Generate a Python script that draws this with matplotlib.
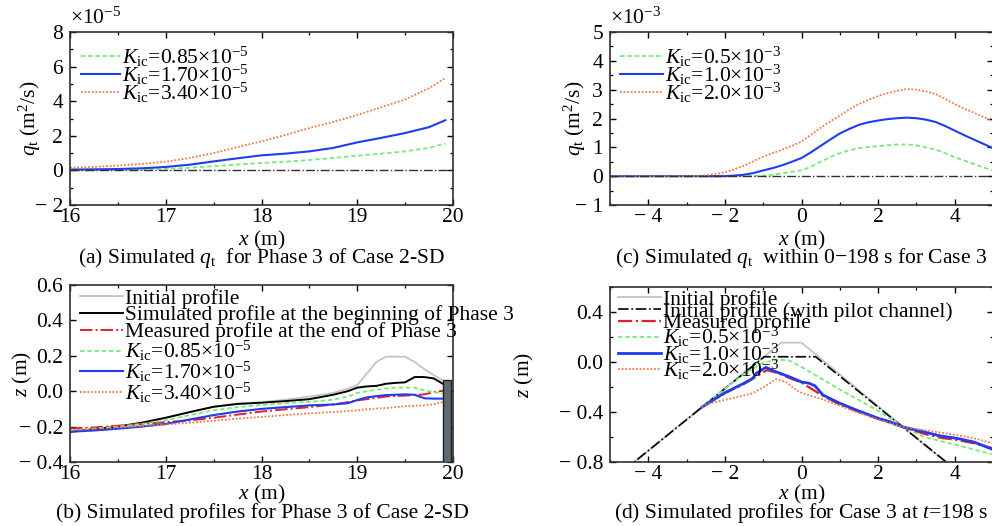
import matplotlib
matplotlib.use("Agg")
import matplotlib.pyplot as plt
from matplotlib.ticker import MultipleLocator, FuncFormatter
from matplotlib.patches import Rectangle

plt.rcParams['font.family'] = ['Liberation Serif', 'DejaVu Serif']
plt.rcParams['mathtext.fontset'] = 'custom'
plt.rcParams['mathtext.rm'] = 'Liberation Serif'
plt.rcParams['mathtext.it'] = 'Liberation Serif:italic'
FS = 15.5
plt.rcParams['font.size'] = FS

# (a) sediment transport rate, Phase 3 of Case 2-SD (units of 1e-5 m2/s)
xa = [16.0, 16.25, 16.5, 16.75, 17.0, 17.25, 17.5, 17.75, 18.0, 18.25, 18.5,
      18.75, 19.0, 19.25, 19.5, 19.75, 19.92]
qa_085 = [0.0, 0.0, 0.02, 0.04, 0.08, 0.15, 0.25, 0.34, 0.43, 0.5, 0.6,
          0.72, 0.85, 0.97, 1.1, 1.3, 1.55]
qa_170 = [0.05, 0.06, 0.08, 0.12, 0.2, 0.33, 0.52, 0.7, 0.87, 0.97, 1.1,
          1.3, 1.62, 1.88, 2.16, 2.5, 2.9]
qa_340 = [0.15, 0.2, 0.28, 0.38, 0.5, 0.72, 1.0, 1.35, 1.68, 2.05, 2.45,
          2.8, 3.2, 3.65, 4.1, 4.75, 5.35]
labels_a = [r'$K_{\rm ic}$=0.85×10$^{-5}$', r'$K_{\rm ic}$=1.70×10$^{-5}$',
            r'$K_{\rm ic}$=3.40×10$^{-5}$']

# (c) sediment transport rate, Case 3 (units of 1e-3 m2/s)
xc = [-5.0, -4.0, -3.0, -2.5, -2.0, -1.75, -1.5, -1.25, -1.0, -0.75, -0.5,
      -0.25, 0.0, 0.25, 0.5, 0.75, 1.0, 1.25, 1.5, 1.75, 2.0, 2.25, 2.5, 2.75,
      3.0, 3.25, 3.5, 3.75, 4.0, 4.25, 4.5, 4.75, 5.0]
qc_05 = [0, 0, 0, 0, 0, 0, 0, 0.01, 0.02, 0.05, 0.1, 0.15, 0.2, 0.33, 0.5,
         0.66, 0.8, 0.9, 0.97, 1.01, 1.04, 1.07, 1.1, 1.1, 1.07, 1.0, 0.92,
         0.8, 0.66, 0.54, 0.42, 0.3, 0.2]
qc_10 = [0, 0, 0, 0, 0, 0.02, 0.05, 0.11, 0.2, 0.28, 0.38, 0.5, 0.63, 0.83,
         1.05, 1.27, 1.48, 1.64, 1.78, 1.87, 1.93, 1.98, 2.01, 2.03, 2.01,
         1.96, 1.88, 1.74, 1.58, 1.42, 1.27, 1.12, 0.97]
qc_20 = [0, 0, 0, 0.02, 0.13, 0.24, 0.37, 0.52, 0.68, 0.8, 0.92, 1.05, 1.2,
         1.44, 1.68, 1.9, 2.1, 2.32, 2.5, 2.65, 2.78, 2.88, 2.96, 3.02, 3.0,
         2.94, 2.85, 2.68, 2.5, 2.34, 2.2, 2.05, 1.92]
labels_c = [r'$K_{\rm ic}$=0.5×10$^{-3}$', r'$K_{\rm ic}$=1.0×10$^{-3}$',
            r'$K_{\rm ic}$=2.0×10$^{-3}$']

# (b) bed profiles, Phase 3 of Case 2-SD
xb = [16.0, 16.25, 16.5, 16.75, 17.0, 17.25, 17.5, 17.75, 18.0, 18.25, 18.5,
      18.75, 18.9, 19.0, 19.1, 19.2, 19.3, 19.4, 19.5, 19.6, 19.7, 19.8, 19.9]
zb_init = [-0.229, -0.215, -0.2, -0.178, -0.15, -0.118, -0.088, -0.07, -0.062,
           -0.048, -0.03, -0.01, 0.015, 0.035, 0.1, 0.165, 0.195, 0.195, 0.195,
           0.165, 0.125, 0.09, 0.06]
zb_begin = [-0.229, -0.215, -0.2, -0.178, -0.15, -0.118, -0.088, -0.072, -0.065,
            -0.056, -0.045, -0.02, 0.0, 0.02, 0.027, 0.03, 0.042, 0.047, 0.05,
            0.08, 0.08, 0.072, 0.04]
zb_meas = [-0.21, -0.205, -0.195, -0.185, -0.175, -0.165, -0.15, -0.132, -0.115,
           -0.102, -0.09, -0.075, -0.062, -0.052, -0.045, -0.038, -0.03, -0.027,
           -0.025, -0.022, -0.018, -0.005, 0.003]
zb_085 = [-0.225, -0.212, -0.2, -0.185, -0.165, -0.135, -0.108, -0.09, -0.078,
          -0.068, -0.06, -0.048, -0.03, -0.01, 0.0, 0.008, 0.015, 0.02, 0.02,
          0.02, 0.005, -0.005, -0.015]
zb_170 = [-0.229, -0.222, -0.212, -0.2, -0.185, -0.16, -0.135, -0.115, -0.1,
          -0.09, -0.08, -0.075, -0.068, -0.05, -0.035, -0.028, -0.022, -0.02,
          -0.018, -0.02, -0.04, -0.042, -0.042]
zb_340 = [-0.22, -0.212, -0.205, -0.197, -0.188, -0.178, -0.167, -0.155, -0.145,
          -0.135, -0.125, -0.118, -0.112, -0.108, -0.102, -0.098, -0.095, -0.09,
          -0.085, -0.082, -0.08, -0.074, -0.06]
wall_x = (19.9, 19.975)
wall_top = 0.063

# (d) bed profiles, Case 3 at t = 198 s
xd_init = [-5.0, -0.53, 0.0, 4.5]
zd_init = [-0.958, 0.155, 0.155, -0.99]
xd_pilot = [-5.0, -0.97, 0.37, 4.5]
zd_pilot = [-0.957, 0.042, 0.042, -0.978]
xd_meas = [-2.6, -2.0, -1.5, -1.2, -0.9, -0.6, -0.3, 0.0, 0.5, 1.0, 1.5, 2.0,
           2.65, 3.2, 3.7, 4.0, 4.5, 5.0]
zd_meas = [-0.362, -0.25, -0.175, -0.12, -0.065, -0.09, -0.13, -0.165, -0.26,
           -0.34, -0.4, -0.455, -0.52, -0.575, -0.61, -0.62, -0.65, -0.69]
xd_05 = [-2.6, -2.0, -1.5, -1.0, -0.6, -0.3, 0.0, 0.5, 1.0, 1.5, 2.0, 2.65,
         3.2, 4.0, 4.5, 5.0]
zd_05 = [-0.362, -0.215, -0.095, -0.005, 0.02, 0.01, -0.04, -0.13, -0.22,
         -0.305, -0.39, -0.52, -0.6, -0.66, -0.7, -0.74]
xd_10 = [-2.6, -2.0, -1.5, -1.27, -1.18, -0.93, -0.67, -0.3, 0.0, 0.2, 0.35,
         0.56, 1.0, 1.43, 2.0, 2.3, 2.65, 3.17, 3.6, 4.04, 4.5, 5.0]
zd_10 = [-0.362, -0.245, -0.17, -0.13, -0.09, -0.043, -0.078, -0.12, -0.16,
         -0.17, -0.19, -0.264, -0.33, -0.384, -0.45, -0.477, -0.52, -0.557,
         -0.59, -0.61, -0.64, -0.7]
xd_20 = [-2.6, -2.4, -1.8, -1.27, -0.93, -0.67, -0.41, -0.06, 0.13, 0.56, 1.0,
         1.43, 2.0, 2.3, 2.65, 3.17, 4.04, 4.5, 5.0]
zd_20 = [-0.362, -0.33, -0.29, -0.25, -0.19, -0.137, -0.16, -0.24, -0.26, -0.3,
         -0.35, -0.4, -0.46, -0.49, -0.52, -0.544, -0.584, -0.61, -0.65]

GREEN = '#7be87b'
BLUE = '#1f3cf0'
ORANGE = '#f07a45'
RED = '#e0202a'
GRAY = '#c4c4c4'

ls_green = (0, (2.5, 1.5))
ls_orange = (0, (1, 1))


def minus_fmt(fmt):
    def f(v, pos):
        s = fmt.format(abs(v))
        return '\u2212 ' + s if v < -1e-9 else s
    return FuncFormatter(f)


def style(ax, xmaj, xmin, ymaj, ymin, xfmt, yfmt):
    ax.xaxis.set_major_locator(MultipleLocator(xmaj))
    ax.xaxis.set_minor_locator(MultipleLocator(xmin))
    ax.yaxis.set_major_locator(MultipleLocator(ymaj))
    if ymin:
        ax.yaxis.set_minor_locator(MultipleLocator(ymin))
    ax.xaxis.set_major_formatter(minus_fmt(xfmt))
    ax.yaxis.set_major_formatter(minus_fmt(yfmt))
    ax.tick_params(which='both', direction='in', top=True, right=True,
                   labelsize=FS)
    ax.tick_params(axis='x', pad=2)
    ax.tick_params(axis='y', pad=5)
    ax.tick_params(which='major', length=4, width=1)
    ax.tick_params(which='minor', length=2.5, width=0.9)
    for sp in ax.spines.values():
        sp.set_linewidth(1.2)
        sp.set_color('#303030')


fig = plt.figure(figsize=(9.92, 5.26), dpi=100)
W, H = 992.0, 526.0


def add_axes(l, t, r, b):
    return fig.add_axes([l / W, 1 - b / H, (r - l) / W, (b - t) / H])


axa = add_axes(70, 32, 453, 205)
axc = add_axes(610, 32, 993, 205)
axb = add_axes(70, 285, 453, 462)
axd = add_axes(610, 287, 993, 462)

leg_kw = dict(loc='upper left', frameon=False, borderaxespad=0, borderpad=0,
              handletextpad=0.1, fontsize=FS)

# ---- (a)
axa.plot(xa, qa_085, color=GREEN, ls=ls_green, lw=1.3, label=labels_a[0])
axa.plot(xa, qa_170, color=BLUE, lw=1.5, label=labels_a[1])
axa.plot(xa, qa_340, color=ORANGE, ls=ls_orange, lw=1.3, label=labels_a[2])
axa.axhline(0, color='#303030', ls='-.', lw=1.0)
axa.set_xlim(16, 20)
axa.set_ylim(-2, 8)
style(axa, 1, 0.5, 2, 1, '{:g}', '{:g}')
axa.legend(bbox_to_anchor=(0.03, 0.925), handlelength=1.8,
           labelspacing=-0.3, **leg_kw)
axa.text(0.0, 1.02, '×10$^{-5}$', transform=axa.transAxes, fontsize=FS,
         ha='left', va='bottom')

# ---- (c)
axc.plot(xc, qc_05, color=GREEN, ls=ls_green, lw=1.3, label=labels_c[0])
axc.plot(xc, qc_10, color=BLUE, lw=1.5, label=labels_c[1])
axc.plot(xc, qc_20, color=ORANGE, ls=ls_orange, lw=1.3, label=labels_c[2])
axc.axhline(0, color='#303030', ls='-.', lw=1.0)
axc.set_xlim(-5, 5)
axc.set_ylim(-1, 5)
style(axc, 2, 1, 1, 0.5, '{:g}', '{:g}')
axc.legend(bbox_to_anchor=(0.025, 0.925), handlelength=2.0,
           labelspacing=-0.3, **leg_kw)
axc.text(0.0, 1.02, '×10$^{-3}$', transform=axc.transAxes, fontsize=FS,
         ha='left', va='bottom')

# ---- (b)
axb.plot(xb, zb_init, color=GRAY, lw=1.3, label='Initial profile')
axb.plot(xb, zb_begin, color='black', lw=1.4,
         label='Simulated profile at the beginning of Phase 3')
axb.plot(xb, zb_meas, color=RED, ls='-.', lw=1.4,
         label='Measured profile at the end of Phase 3')
axb.plot(xb, zb_085, color=GREEN, ls=ls_green, lw=1.3,
         label=r'$K_{\rm ic}$=0.85×10$^{-5}$')
axb.plot(xb, zb_170, color=BLUE, lw=1.5, label=r'$K_{\rm ic}$=1.70×10$^{-5}$')
axb.plot(xb, zb_340, color=ORANGE, ls=ls_orange, lw=1.3,
         label=r'$K_{\rm ic}$=3.40×10$^{-5}$')
axb.add_patch(Rectangle((wall_x[0], -0.4), wall_x[1] - wall_x[0],
                        wall_top + 0.4, facecolor='#5e6a71',
                        edgecolor='#202020', lw=1.0, zorder=5))
axb.set_xlim(16, 20)
axb.set_ylim(-0.4, 0.6)
style(axb, 1, 0.5, 0.2, None, '{:g}', '{:.1f}')
axb.legend(bbox_to_anchor=(0.025, 0.98), handlelength=2.0,
           labelspacing=-0.15, **leg_kw)

# ---- (d)
axd.plot(xd_init, zd_init, color=GRAY, lw=1.3, label='Initial profile')
axd.plot(xd_pilot, zd_pilot, color='black', ls='-.', lw=1.2,
         label='Initial profile (with pilot channel)')
axd.plot(xd_meas, zd_meas, color=RED, ls='-.', lw=1.6, label='Measured profile')
axd.plot(xd_05, zd_05, color=GREEN, ls=ls_green, lw=1.3,
         label=r'$K_{\rm ic}$=0.5×10$^{-3}$')
axd.plot(xd_10, zd_10, color=BLUE, lw=2.0, label=r'$K_{\rm ic}$=1.0×10$^{-3}$')
axd.plot(xd_20, zd_20, color=ORANGE, ls=ls_orange, lw=1.3,
         label=r'$K_{\rm ic}$=2.0×10$^{-3}$')
axd.set_xlim(-5, 5)
axd.set_ylim(-0.8, 0.6)
style(axd, 2, 1, 0.4, 0.2, '{:g}', '{:.1f}')
axd.legend(bbox_to_anchor=(0.02, 0.985), handlelength=2.0,
           labelspacing=-0.38, **leg_kw)

# axis labels and captions
for ax, yl, ylx, xl_off in [(axa, r'$q_{\rm t}$ (m$^2$/s)', 30, 35),
                            (axc, r'$q_{\rm t}$ (m$^2$/s)', 575, 35),
                            (axb, r'$z$ (m)', 22, 32),
                            (axd, r'$z$ (m)', 524, 32)]:
    bb = ax.get_position()
    fig.text(ylx / W, bb.y0 + bb.height / 2, yl, rotation=90, ha='center',
             va='center', fontsize=FS)
    fig.text(bb.x0 + bb.width / 2, bb.y0 - xl_off / H, r'$x$ (m)', ha='center',
             va='center', fontsize=FS)

fig.text(262 / W, 1 - 258 / H, r'(a) Simulated $q_{\rm t}$  for Phase 3 of Case 2-SD',
         ha='center', va='center', fontsize=FS)
fig.text(801 / W, 1 - 258 / H, r'(c) Simulated $q_{\rm t}$  within 0−198 s for Case 3',
         ha='center', va='center', fontsize=FS)
fig.text(262 / W, 1 - 513 / H, '(b) Simulated profiles for Phase 3 of Case 2-SD',
         ha='center', va='center', fontsize=FS)
fig.text(801 / W, 1 - 513 / H, r'(d) Simulated profiles for Case 3 at $t$=198 s',
         ha='center', va='center', fontsize=FS)

fig.savefig('out.png', dpi=100)
